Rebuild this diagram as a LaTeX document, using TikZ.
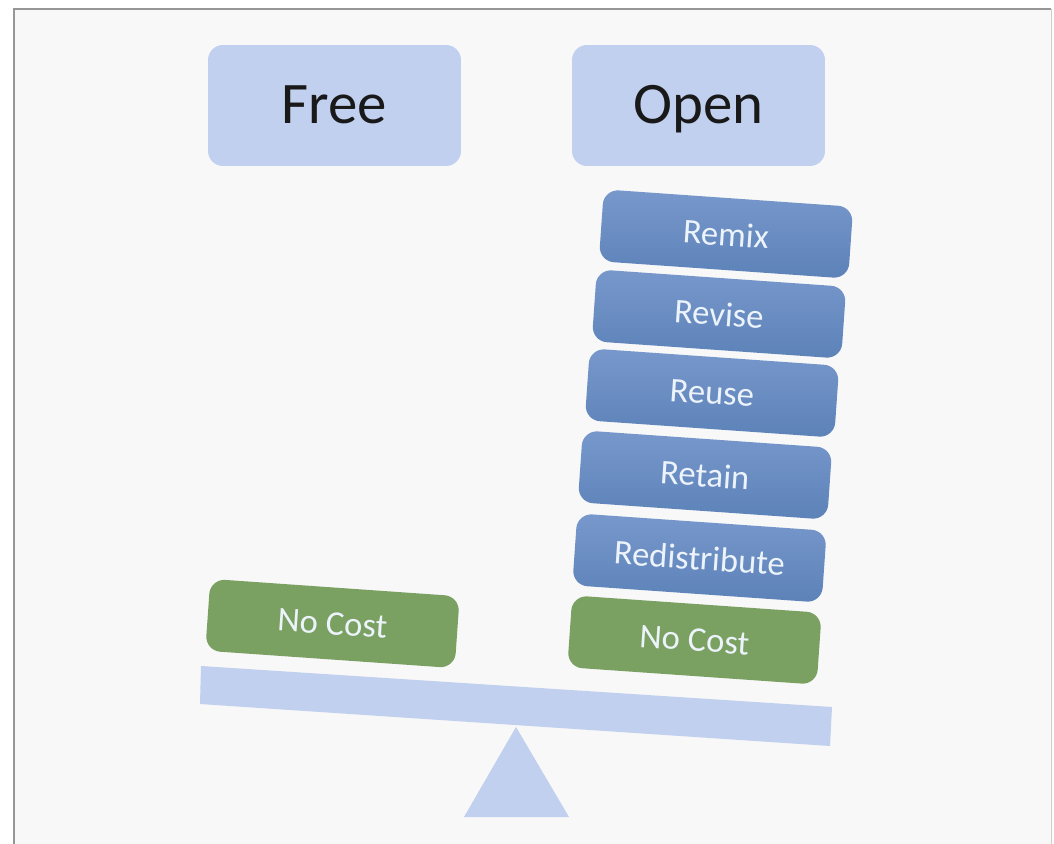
\documentclass[tikz,border=0pt]{standalone}
\usepackage{fontspec}
\setmainfont{Carlito}
\definecolor{cus-page}{RGB}{248, 248, 248}
\definecolor{cus-edge}{RGB}{150, 150, 150}
\definecolor{cus-light}{RGB}{192, 208, 238}
\definecolor{cus-blue}{RGB}{120, 152, 204}
\definecolor{cus-blue1}{RGB}{92, 130, 184}
\definecolor{cus-green}{RGB}{122, 160, 98}
\definecolor{cus-text}{RGB}{236, 243, 250}
\tikzset{
	headbox/.style={fill=cus-light,rounded corners=.3 cm,minimum width=5.06 cm,minimum height=2.42 cm,text height=.98 cm,text depth=.24 cm,font=\fontsize{33.5}{36}\selectfont,text=black!90},
	stackbox/.style={rounded corners=.3 cm,minimum width=5 cm,minimum height=1.44 cm,rotate=-4,font=\fontsize{19.7}{22}\selectfont,text=cus-text},
	bluebox/.style={stackbox,top color=cus-blue,bottom color=cus-blue1},
	greenbox/.style={stackbox,fill=cus-green},
	beam/.style={fill=cus-light}
}

\begin{document}
\begin{tikzpicture}[x=.02 cm,y=-.02 cm]
\useasboundingbox (0 ,0) rectangle (1054 ,844);
% page
\fill [white] (0 ,0) rectangle (1054 ,844);
\fill [cus-page] (14 ,9) rectangle (1051 ,844);
\draw [cus-edge,thick] (14 ,844)--(14 ,9)--(1051 ,9);
\draw [black!20] (1051 ,9)--(1051 ,844);
% headings
\node [headbox] (free) at (334.5 ,105.5) {Free};
\node [headbox] (open) at (698.5 ,105.5) {Open};
% stack
\foreach \name/\x/\y in {Remix/726/234,Revise/719/314,Reuse/712/393,Retain/705/475,Redistribute/699.5/558}{
	\node [bluebox] (box-\name) at (\x ,\y) {\name};
}
\node [greenbox] (cost-open) at (694.5 ,640) {No Cost};
\node [greenbox] (cost-free) at (332.5 ,623.5) {No Cost};
% balance
\fill [beam] (201 ,666)--(832 ,707)--(830 ,746)--(200 ,704) -- cycle;
\fill [beam] (516 ,727)--(569 ,817)--(464 ,817) -- cycle;
\end{tikzpicture}
\end{document}
